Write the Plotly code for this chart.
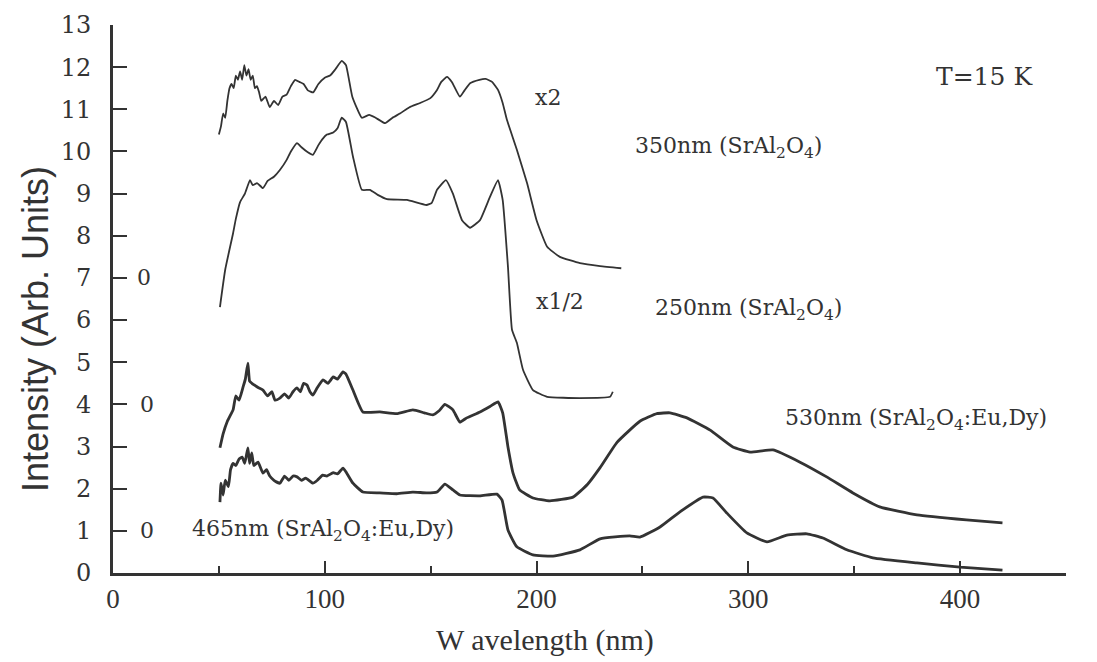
import plotly.graph_objects as go

# ---------------- data ----------------
# 350 nm (SrAl2O4), x2
wl_350 = [50, 51, 52, 53, 54, 55, 56, 57, 58, 59, 60, 61, 62, 63, 64, 65, 66, 67, 68, 69, 70, 72, 74, 76, 78, 80, 82, 84, 86, 88, 90, 92, 94.5, 97, 100, 102.5, 105, 108, 110, 113, 117.5, 121, 124, 128.5, 132, 135.5, 140, 145, 149.7, 153, 155, 157.7, 160, 163.8, 166, 168.6, 173, 176, 179, 181.8, 184, 186, 190.7, 195.5, 200, 205, 211, 220.5, 230, 240]
int_350 = [10.4, 10.6, 10.9, 10.8, 11.2, 11.5, 11.6, 11.5, 11.8, 11.7, 11.9, 11.7, 12.05, 11.8, 11.95, 11.7, 11.8, 11.5, 11.55, 11.4, 11.2, 11.3, 11.05, 11.2, 11.1, 11.3, 11.35, 11.55, 11.7, 11.65, 11.6, 11.45, 11.4, 11.6, 11.75, 11.8, 11.95, 12.15, 12.05, 11.3, 10.8, 10.87, 10.8, 10.67, 10.8, 10.9, 11.05, 11.15, 11.26, 11.46, 11.65, 11.77, 11.65, 11.3, 11.45, 11.62, 11.7, 11.72, 11.65, 11.46, 11.15, 10.75, 10.04, 9.25, 8.37, 7.74, 7.5, 7.35, 7.28, 7.23]

# 250 nm (SrAl2O4), x1/2
wl_250 = [50.5, 53, 56.7, 58, 60, 62.3, 64.7, 66, 68, 70.8, 73, 76, 78.8, 82, 84, 86.9, 89, 92, 94.4, 97, 99, 101, 104, 106, 108, 110, 113.3, 117.5, 121.3, 125, 129.4, 138.8, 148, 150.5, 153, 157.2, 160.5, 164.8, 168.6, 173.3, 178, 181.8, 184, 186.5, 188.4, 190.7, 193.6, 198.3, 205, 220.5, 234.7, 236]
int_250 = [6.31, 7.2, 8.06, 8.4, 8.8, 9.0, 9.32, 9.2, 9.25, 9.13, 9.3, 9.4, 9.56, 9.8, 10.0, 10.2, 10.1, 9.98, 9.92, 10.15, 10.3, 10.4, 10.45, 10.55, 10.8, 10.7, 9.88, 9.09, 9.09, 8.97, 8.87, 8.85, 8.73, 8.78, 9.09, 9.32, 9.0, 8.37, 8.19, 8.37, 8.92, 9.32, 8.85, 7.26, 5.77, 5.46, 4.82, 4.34, 4.18, 4.15, 4.18, 4.3]

# 530 nm (SrAl2O4:Eu,Dy)
wl_530 = [50.5, 52, 54, 55.5, 56.7, 58, 59.5, 61.4, 62.5, 63.7, 64.5, 65.6, 67, 68.5, 70.8, 73, 75, 76.5, 78.8, 81, 83, 85, 86.9, 88.5, 90, 91.6, 93, 94.4, 96.5, 99.2, 101.5, 104, 106, 108.6, 110, 113.3, 118, 126, 134, 141.6, 147, 151, 154, 156.7, 160.5, 163.8, 167, 173.3, 178, 181.8, 184, 186.5, 188.9, 192, 198.3, 206.3, 217.2, 224, 230, 238, 248.8, 256.8, 263, 271, 282, 292.7, 300.8, 311.6, 324.4, 337, 349.4, 362, 379.6, 403, 420]
int_530 = [2.97, 3.3, 3.6, 3.75, 3.87, 4.2, 4.1, 4.41, 4.6, 4.98, 4.55, 4.5, 4.45, 4.4, 4.34, 4.2, 4.3, 4.1, 4.15, 4.25, 4.15, 4.3, 4.39, 4.3, 4.5, 4.46, 4.3, 4.22, 4.4, 4.58, 4.5, 4.65, 4.6, 4.77, 4.72, 4.34, 3.82, 3.82, 3.78, 3.87, 3.8, 3.75, 3.85, 4.0, 3.87, 3.58, 3.68, 3.82, 3.95, 4.06, 3.8, 2.99, 2.37, 1.97, 1.78, 1.71, 1.8, 2.1, 2.5, 3.1, 3.6, 3.78, 3.8, 3.68, 3.39, 2.99, 2.87, 2.92, 2.63, 2.28, 1.9, 1.57, 1.38, 1.26, 1.19]

# 465 nm (SrAl2O4:Eu,Dy)
wl_465 = [50.5, 51, 52, 53, 54.5, 55.5, 56.7, 58, 59.5, 61, 62.2, 63.7, 64.5, 65.5, 66.5, 68.5, 70.8, 72.5, 74, 76, 78.8, 81, 83, 85, 86.9, 89, 91, 94.4, 96.5, 99, 101, 104, 106, 108.6, 110, 113.3, 118, 126, 134, 141.6, 148, 153, 156.7, 160.5, 163.8, 173.3, 181.3, 183.7, 186.5, 190.7, 198.3, 207.8, 220.5, 230, 244, 248.8, 258.3, 267.7, 278.6, 283.3, 289.9, 299.3, 308.8, 318.2, 327.7, 335.2, 346.5, 358.8, 379.6, 400, 420]
int_465 = [1.68, 2.13, 1.85, 2.2, 2.05, 2.45, 2.6, 2.55, 2.7, 2.75, 2.6, 2.97, 2.6, 2.85, 2.55, 2.63, 2.37, 2.45, 2.3, 2.2, 2.13, 2.3, 2.2, 2.3, 2.28, 2.2, 2.25, 2.13, 2.2, 2.32, 2.3, 2.38, 2.35, 2.49, 2.4, 2.13, 1.92, 1.9, 1.88, 1.92, 1.9, 1.92, 2.11, 1.97, 1.85, 1.83, 1.87, 1.73, 1.02, 0.62, 0.43, 0.40, 0.55, 0.81, 0.88, 0.85, 1.09, 1.45, 1.8, 1.78, 1.42, 0.95, 0.74, 0.9, 0.93, 0.83, 0.55, 0.36, 0.24, 0.14, 0.07]

x_ticks = [0, 100, 200, 300, 400]
y_ticks = list(range(0, 14))

INK = "#333333"
SERIF = "DejaVu Serif, Liberation Serif, serif"

fig = go.Figure()
for wl, vals, w in [(wl_350, int_350, 1.8), (wl_250, int_250, 1.8),
                    (wl_530, int_530, 2.8), (wl_465, int_465, 2.8)]:
    fig.add_trace(go.Scatter(x=wl, y=vals, mode="lines",
                             line=dict(color=INK, width=w, shape="spline", smoothing=0.4),
                             hoverinfo="skip", showlegend=False))

ann_font = dict(family=SERIF, size=22, color=INK)
notes = [
    (14.5, 7.0, "0", "center"),
    (16.0, 4.0, "0", "center"),
    (16.0, 1.0, "0", "center"),
    (205.4, 11.29, "x2", "center"),
    (211.0, 6.43, "x1/2", "center"),
    (245.5, 10.1, "350nm (SrAl<sub>2</sub>O<sub>4</sub>)", "left"),
    (255.0, 6.24, "250nm (SrAl<sub>2</sub>O<sub>4</sub>)", "left"),
    (316.3, 3.63, "530nm (SrAl<sub>2</sub>O<sub>4</sub>:Eu,Dy)", "left"),
    (36.4, 1.02, "465nm (SrAl<sub>2</sub>O<sub>4</sub>:Eu,Dy)", "left"),
]
for x, y, t, anc in notes:
    fig.add_annotation(x=x, y=y, xref="x", yref="y", text=t, showarrow=False,
                       xanchor=anc, yanchor="middle", font=ann_font)
fig.add_annotation(x=411.7, y=11.77, xref="x", yref="y", text="T=15 K", showarrow=False,
                   xanchor="center", yanchor="middle",
                   font=dict(family=SERIF, size=25, color=INK))

# axis titles as annotations (placed as in the reference)
fig.add_annotation(x=0.453, y=-0.122, xref="paper", yref="paper",
                   text="W avelength (nm)", showarrow=False,
                   xanchor="center", yanchor="middle",
                   font=dict(family="Liberation Serif, serif", size=30, color=INK))
fig.add_annotation(x=-0.082, y=0.445, xref="paper", yref="paper",
                   text="Intensity (Arb. Units)", showarrow=False, textangle=-90,
                   xanchor="center", yanchor="middle",
                   font=dict(family="Liberation Sans Narrow, Liberation Sans, sans-serif", size=36, color=INK))

fig.update_layout(
    width=1097, height=662,
    margin=dict(l=113, r=31, t=25, b=89),
    paper_bgcolor="white", plot_bgcolor="white",
    showlegend=False,
)
fig.update_xaxes(
    range=[0, 450], showgrid=False, zeroline=False,
    showline=True, linewidth=3, linecolor=INK,
    tickmode="array", tickvals=x_ticks, ticktext=[str(v) for v in x_ticks],
    ticks="inside", ticklen=12, tickwidth=2, tickcolor=INK,
    minor=dict(dtick=50, tick0=0, ticks="inside", ticklen=7, tickwidth=2, tickcolor=INK, showgrid=False),
    tickfont=dict(family="Liberation Serif, serif", size=27, color=INK),
)
fig.update_yaxes(
    range=[0, 13], showgrid=False, zeroline=False,
    showline=True, linewidth=3, linecolor=INK,
    tickmode="array", tickvals=y_ticks, ticktext=[str(v) for v in y_ticks],
    ticks="inside", ticklen=14, tickwidth=2, tickcolor=INK,
    ticklabelstandoff=14,
    tickfont=dict(family=SERIF, size=24, color=INK),
)

fig.write_html("out.html")
